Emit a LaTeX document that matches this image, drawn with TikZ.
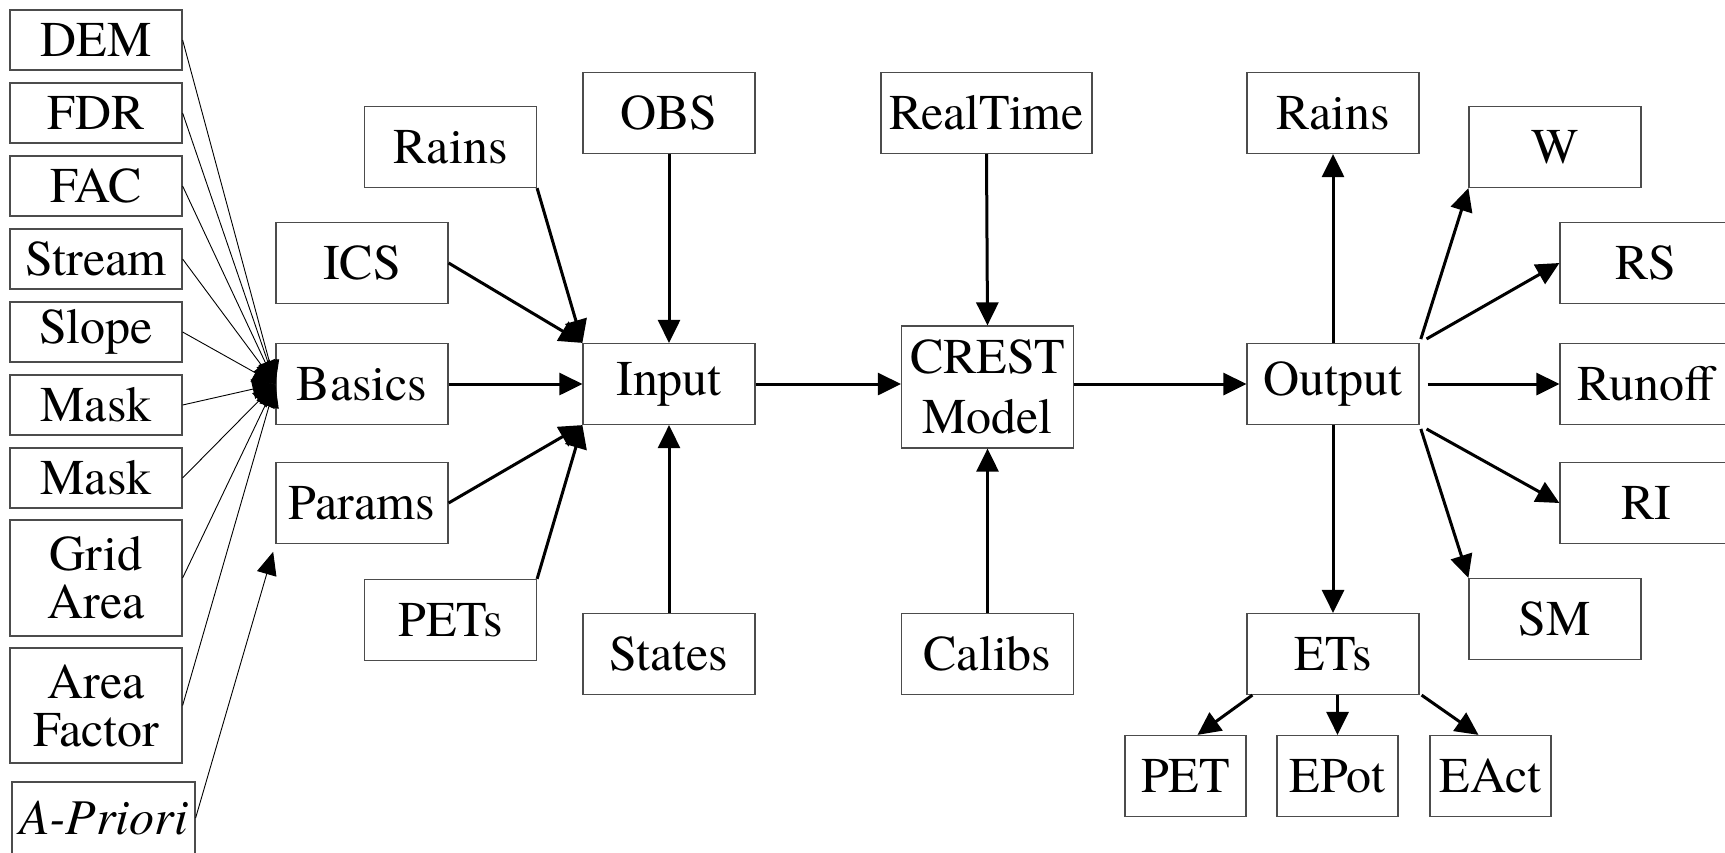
\documentclass[tikz,border=0pt]{standalone}
\usepackage{fontspec}
\setmainfont{texgyretermes}[Extension=.otf,UprightFont=*-regular,ItalicFont=*-italic,
  BoldFont=*-bold,BoldItalicFont=*-bolditalic]
\usetikzlibrary{arrows.meta,calc}

\begin{document}
\begin{tikzpicture}[x=0.5pt,y=-0.5pt,
    box/.style={draw=black!70,line width=0.6pt,fill=white,minimum width=86pt,minimum height=40.5pt,
                inner sep=0pt,align=center,font=\fontsize{25}{30}\selectfont},
    src/.style={box,minimum height=30pt,font=\fontsize{25}{24}\selectfont},
    feed/.style={-{Triangle[length=11.5pt,width=10pt]},line width=0.45pt},
    flow/.style={-{Triangle[length=11.5pt,width=11pt]},line width=1.5pt}
  ]
  \useasboundingbox (0,0) rectangle (1725,852);
  % basic grids
  \node[src] (DEM)    at (96,40)  {DEM};
  \node[src] (FDR)    at (96,113) {FDR};
  \node[src] (FAC)    at (96,186) {FAC};
  \node[src] (Stream) at (96,259) {Stream};
  \node[src] (Slope)  at (96,332) {Slope};
  \node[src] (MaskA)  at (96,405) {Mask};
  \node[src] (MaskB)  at (96,478) {Mask};
  \node[src,minimum height=58pt] (Grid) at (96,578) {Grid\\Area};
  \node[src,minimum height=57.5pt] (AFac) at (96,705.5) {Area\\Factor};
  \node[src,minimum width=91.5pt,minimum height=36pt] (Apri) at (103.5,818) {\itshape A-Priori};
  % input side
  \node[box] (RainsIn) at (450.5,147) {Rains};
  \node[box] (ICS)     at (362,263)   {ICS};
  \node[box] (Basics)  at (362,384)   {Basics};
  \node[box] (Params)  at (362,503)   {Params};
  \node[box] (PETs)    at (450.5,620) {PETs};
  \node[box] (OBS)     at (669,113)   {OBS};
  \node[box] (Input)   at (669,384)   {Input};
  \node[box] (States)  at (669,654)   {States};
  % model
  \node[box,minimum width=105.5pt] (RT) at (986.5,113) {RealTime};
  \node[box,minimum height=61pt] (CREST) at (987.5,387) {CREST\\Model};
  \node[box] (Calibs)  at (987.5,654) {Calibs};
  % output side
  \node[box] (RainsOut) at (1333,113) {Rains};
  \node[box] (Output)   at (1333,384) {Output};
  \node[box] (ETs)      at (1333,654) {ETs};
  \node[box] (W)        at (1555,147) {W};
  \node[box] (RS)       at (1646,263) {RS};
  \node[box] (Runoff)   at (1646,384) {Runoff};
  \node[box] (RI)       at (1646,503) {RI};
  \node[box] (SM)       at (1555,619) {SM};
  \node[box,minimum width=60.5pt] (PET)  at (1185.5,776) {PET};
  \node[box,minimum width=60.5pt] (EPot) at (1337.5,776) {EPot};
  \node[box,minimum width=60.5pt] (EAct) at (1490.5,776) {EAct};

  \foreach \g in {DEM,FDR,FAC,Stream,Slope,MaskA,MaskB,Grid,AFac}
    \draw[feed] (\g.east) -- (Basics.west);
  \draw[feed,shorten >=4pt] (Apri.east) -- (Params.south west);

  \draw[flow] (RainsIn.south east) -- (Input.north west);
  \draw[flow] (ICS.east) -- (Input.north west);
  \draw[flow] (Basics.east) -- (Input.west);
  \draw[flow] (Params.east) -- (Input.south west);
  \draw[flow] (PETs.north east) -- (Input.south west);
  \draw[flow] (OBS.south) -- (Input.north);
  \draw[flow] (States.north) -- (Input.south);
  \draw[flow] (Input.east) -- (Input.east -| CREST.west);
  \draw[flow] (RT.south) -- (CREST.north);
  \draw[flow] (Calibs.north) -- (CREST.south);
  \draw[flow] (Output.west -| CREST.east) -- (Output.west);
  \draw[flow] (Output.north) -- (RainsOut.south);
  \draw[flow] (Output.south) -- (ETs.north);
  \draw[flow,shorten <=2pt] (Output.north east) -- (W.south west);
  \draw[flow,shorten <=4pt] (Output.north east) -- (RS.west);
  \draw[flow,shorten <=4pt] (Output.east) -- (Runoff.west);
  \draw[flow,shorten <=4pt] (Output.south east) -- (RI.west);
  \draw[flow,shorten <=2pt] (Output.south east) -- (SM.north west);
  \draw[flow] ([xshift=3pt]ETs.south west) -- ([xshift=6pt]PET.north);
  \draw[flow] (EPot.north |- ETs.south) -- (EPot.north);
  \draw[flow] ([xshift=1pt]ETs.south east) -- ([xshift=-6pt]EAct.north);
\end{tikzpicture}
\end{document}
